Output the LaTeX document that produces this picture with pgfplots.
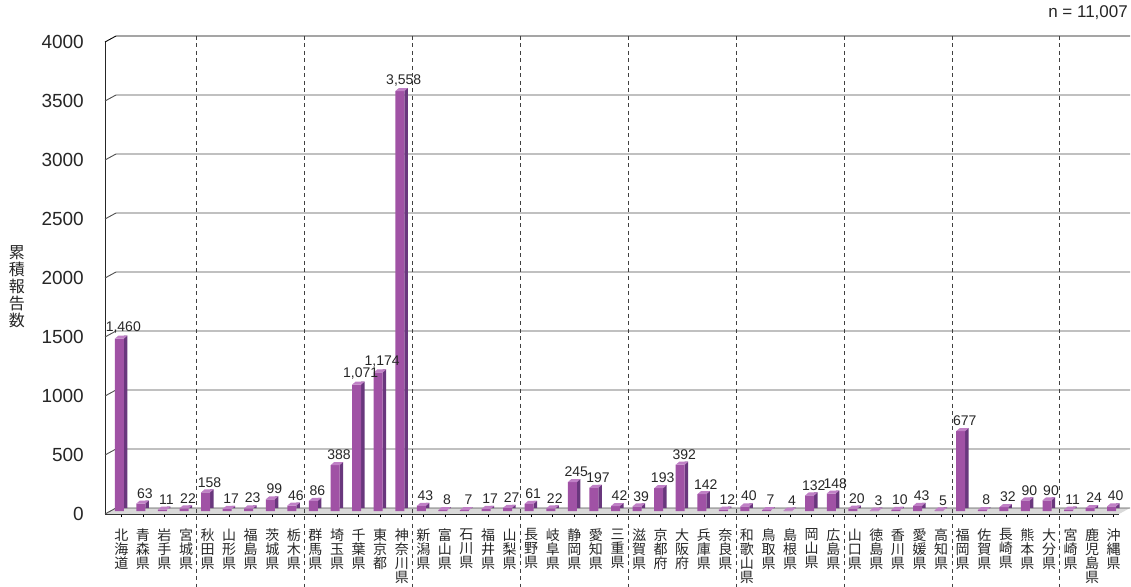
\documentclass[border=0pt]{standalone}
\usepackage{fontspec}
\setmainfont{Liberation Sans}
\newfontfamily\cjk{Noto Sans CJK JP}
\usepackage{pgfplots}
\pgfplotsset{compat=1.18}
\definecolor{frontc}{HTML}{A052A5}
\definecolor{sidec}{HTML}{69377D}
\definecolor{topc}{HTML}{C080C6}
\definecolor{floorc}{HTML}{D9D9D9}
\pgfdeclareplotmark{topface}{%
  \pgfpathmoveto{\pgfqpoint{-6.5pt}{0pt}}%
  \pgfpathlineto{\pgfqpoint{2.5pt}{0pt}}%
  \pgfpathlineto{\pgfqpoint{6pt}{3pt}}%
  \pgfpathlineto{\pgfqpoint{-3pt}{3pt}}%
  \pgfpathclose
  \pgfusepathqfill}
\pgfplotsset{/pgf/number format/assume math mode=true}
\begin{document}
\begin{tikzpicture}
\begin{axis}[
  at={(110.5pt,75pt)}, anchor=south west,
  scale only axis, width=1014pt, height=472pt,
  xmin=-0.5, xmax=46.5, ymin=0, ymax=4000,
  clip=false,
  axis line style={draw=none},
  xtick={0,...,46}, xtick pos=bottom,
  major tick length=6pt, tick align=outside,
  xtick style={draw=black, line width=0.6pt},
  ytick={0,500,...,4000}, ytick style={draw=none},
  yticklabel style={anchor=east, inner sep=0pt, xshift=-20.5pt, yshift=-3pt,
     font=\fontsize{19}{21}\selectfont, text=black!85},
  /pgf/number format/1000 sep={},
  xticklabel style={anchor=north, inner sep=0pt, yshift=-11.5pt, align=center,
     font=\cjk\fontsize{14}{14}\selectfont, text=black!85},
  xticklabels={{北\\海\\道},{青\\森\\県},{岩\\手\\県},{宮\\城\\県},{秋\\田\\県},{山\\形\\県},{福\\島\\県},{茨\\城\\県},{栃\\木\\県},{群\\馬\\県},{埼\\玉\\県},{千\\葉\\県},{東\\京\\都},{神\\奈\\川\\県},{新\\潟\\県},{富\\山\\県},{石\\川\\県},{福\\井\\県},{山\\梨\\県},{長\\野\\県},{岐\\阜\\県},{静\\岡\\県},{愛\\知\\県},{三\\重\\県},{滋\\賀\\県},{京\\都\\府},{大\\阪\\府},{兵\\庫\\県},{奈\\良\\県},{和\\歌\\山\\県},{鳥\\取\\県},{島\\根\\県},{岡\\山\\県},{広\\島\\県},{山\\口\\県},{徳\\島\\県},{香\\川\\県},{愛\\媛\\県},{高\\知\\県},{福\\岡\\県},{佐\\賀\\県},{長\\崎\\県},{熊\\本\\県},{大\\分\\県},{宮\\崎\\県},{鹿\\児\\島\\県},{沖\\縄\\県}},
]
% floor
\fill[floorc] ([shift={(-5.5pt,-3pt)}]axis cs:-0.5,0) -- ([shift={(-5.5pt,-3pt)}]axis cs:46.5,0)
  -- ([shift={(5.5pt,3pt)}]axis cs:46.5,0) -- ([shift={(5.5pt,3pt)}]axis cs:-0.5,0) -- cycle;
\draw[black!80, line width=0.9pt] ([shift={(-5.5pt,-3pt)}]axis cs:-0.5,0) -- ([shift={(-5.5pt,-3pt)}]axis cs:46.5,0);
% front wall line
\draw[black!85, line width=0.9pt] ([shift={(-5.5pt,-3pt)}]axis cs:-0.5,0) -- ([shift={(-5.5pt,-3pt)}]axis cs:-0.5,4000);
% grid lines
\pgfplotsinvokeforeach{0,500,1000,1500,2000,2500,3000,3500}{
  \draw[black!70, line width=0.9pt] ([shift={(-5.5pt,-3pt)}]axis cs:-0.5,#1) -- ([shift={(5.5pt,3pt)}]axis cs:-0.5,#1) -- ([shift={(5.5pt,3pt)}]axis cs:46.5,#1);
}
\draw[black, line width=0.9pt] ([shift={(-5.5pt,-3pt)}]axis cs:-0.5,4000) -- ([shift={(5.5pt,3pt)}]axis cs:-0.5,4000) -- ([shift={(5.5pt,3pt)}]axis cs:46.5,4000);
% region separators
\pgfplotsinvokeforeach{3.5,8.5,13.5,18.5,23.5,28.5,33.5,38.5,43.5}{
  \draw[black!75, line width=0.8pt, dash pattern=on 4pt off 3.5pt] ([yshift=3pt]axis cs:#1,4000) -- ([yshift=-76pt]axis cs:#1,0);
}
% side faces
\addplot[ybar, bar width=3.5pt, bar shift=4.25pt, yshift=3pt, fill=sidec, draw=none]
 coordinates {(0,1460)(1,63)(2,11)(3,22)(4,158)(5,17)(6,23)(7,99)(8,46)(9,86)(10,388)(11,1071)(12,1174)(13,3558)(14,43)(15,8)(16,7)(17,17)(18,27)(19,61)(20,22)(21,245)(22,197)(23,42)(24,39)(25,193)(26,392)(27,142)(28,12)(29,40)(30,7)(31,4)(32,132)(33,148)(34,20)(35,3)(36,10)(37,43)(38,5)(39,677)(40,8)(41,32)(42,90)(43,90)(44,11)(45,24)(46,40)};
% top faces
\addplot[only marks, mark=topface, mark options={fill=topc, draw=none}]
 coordinates {(0,1460)(1,63)(2,11)(3,22)(4,158)(5,17)(6,23)(7,99)(8,46)(9,86)(10,388)(11,1071)(12,1174)(13,3558)(14,43)(15,8)(16,7)(17,17)(18,27)(19,61)(20,22)(21,245)(22,197)(23,42)(24,39)(25,193)(26,392)(27,142)(28,12)(29,40)(30,7)(31,4)(32,132)(33,148)(34,20)(35,3)(36,10)(37,43)(38,5)(39,677)(40,8)(41,32)(42,90)(43,90)(44,11)(45,24)(46,40)};
% front faces with labels
\addplot[ybar, bar width=9pt, bar shift=-2pt, fill=frontc, draw=none,
  nodes near coords={\pgfmathprintnumber[1000 sep={,}]{\pgfplotspointmeta}},
  every node near coord/.append style={anchor=south, inner sep=0pt, xshift=2pt, yshift=5pt,
     font=\fontsize{14}{15}\selectfont, text=black!85}]
 coordinates {(0,1460)(1,63)(2,11)(3,22)(4,158)(5,17)(6,23)(7,99)(8,46)(9,86)(10,388)(11,1071)(12,1174)(13,3558)(14,43)(15,8)(16,7)(17,17)(18,27)(19,61)(20,22)(21,245)(22,197)(23,42)(24,39)(25,193)(26,392)(27,142)(28,12)(29,40)(30,7)(31,4)(32,132)(33,148)(34,20)(35,3)(36,10)(37,43)(38,5)(39,677)(40,8)(41,32)(42,90)(43,90)(44,11)(45,24)(46,40)};
\end{axis}
\node[align=center, font=\cjk\fontsize{16}{17}\selectfont, text=black!85, inner sep=0pt] at (17pt,299pt) {累\\積\\報\\告\\数};
\node[anchor=east, inner sep=0pt, font=\fontsize{17}{19}\selectfont, text=black!85] at (1128pt,573pt) {n = 11,007};
\pgfresetboundingbox
\path[use as bounding box] (0,0) rectangle (1131pt,586pt);
\end{tikzpicture}
\end{document}
